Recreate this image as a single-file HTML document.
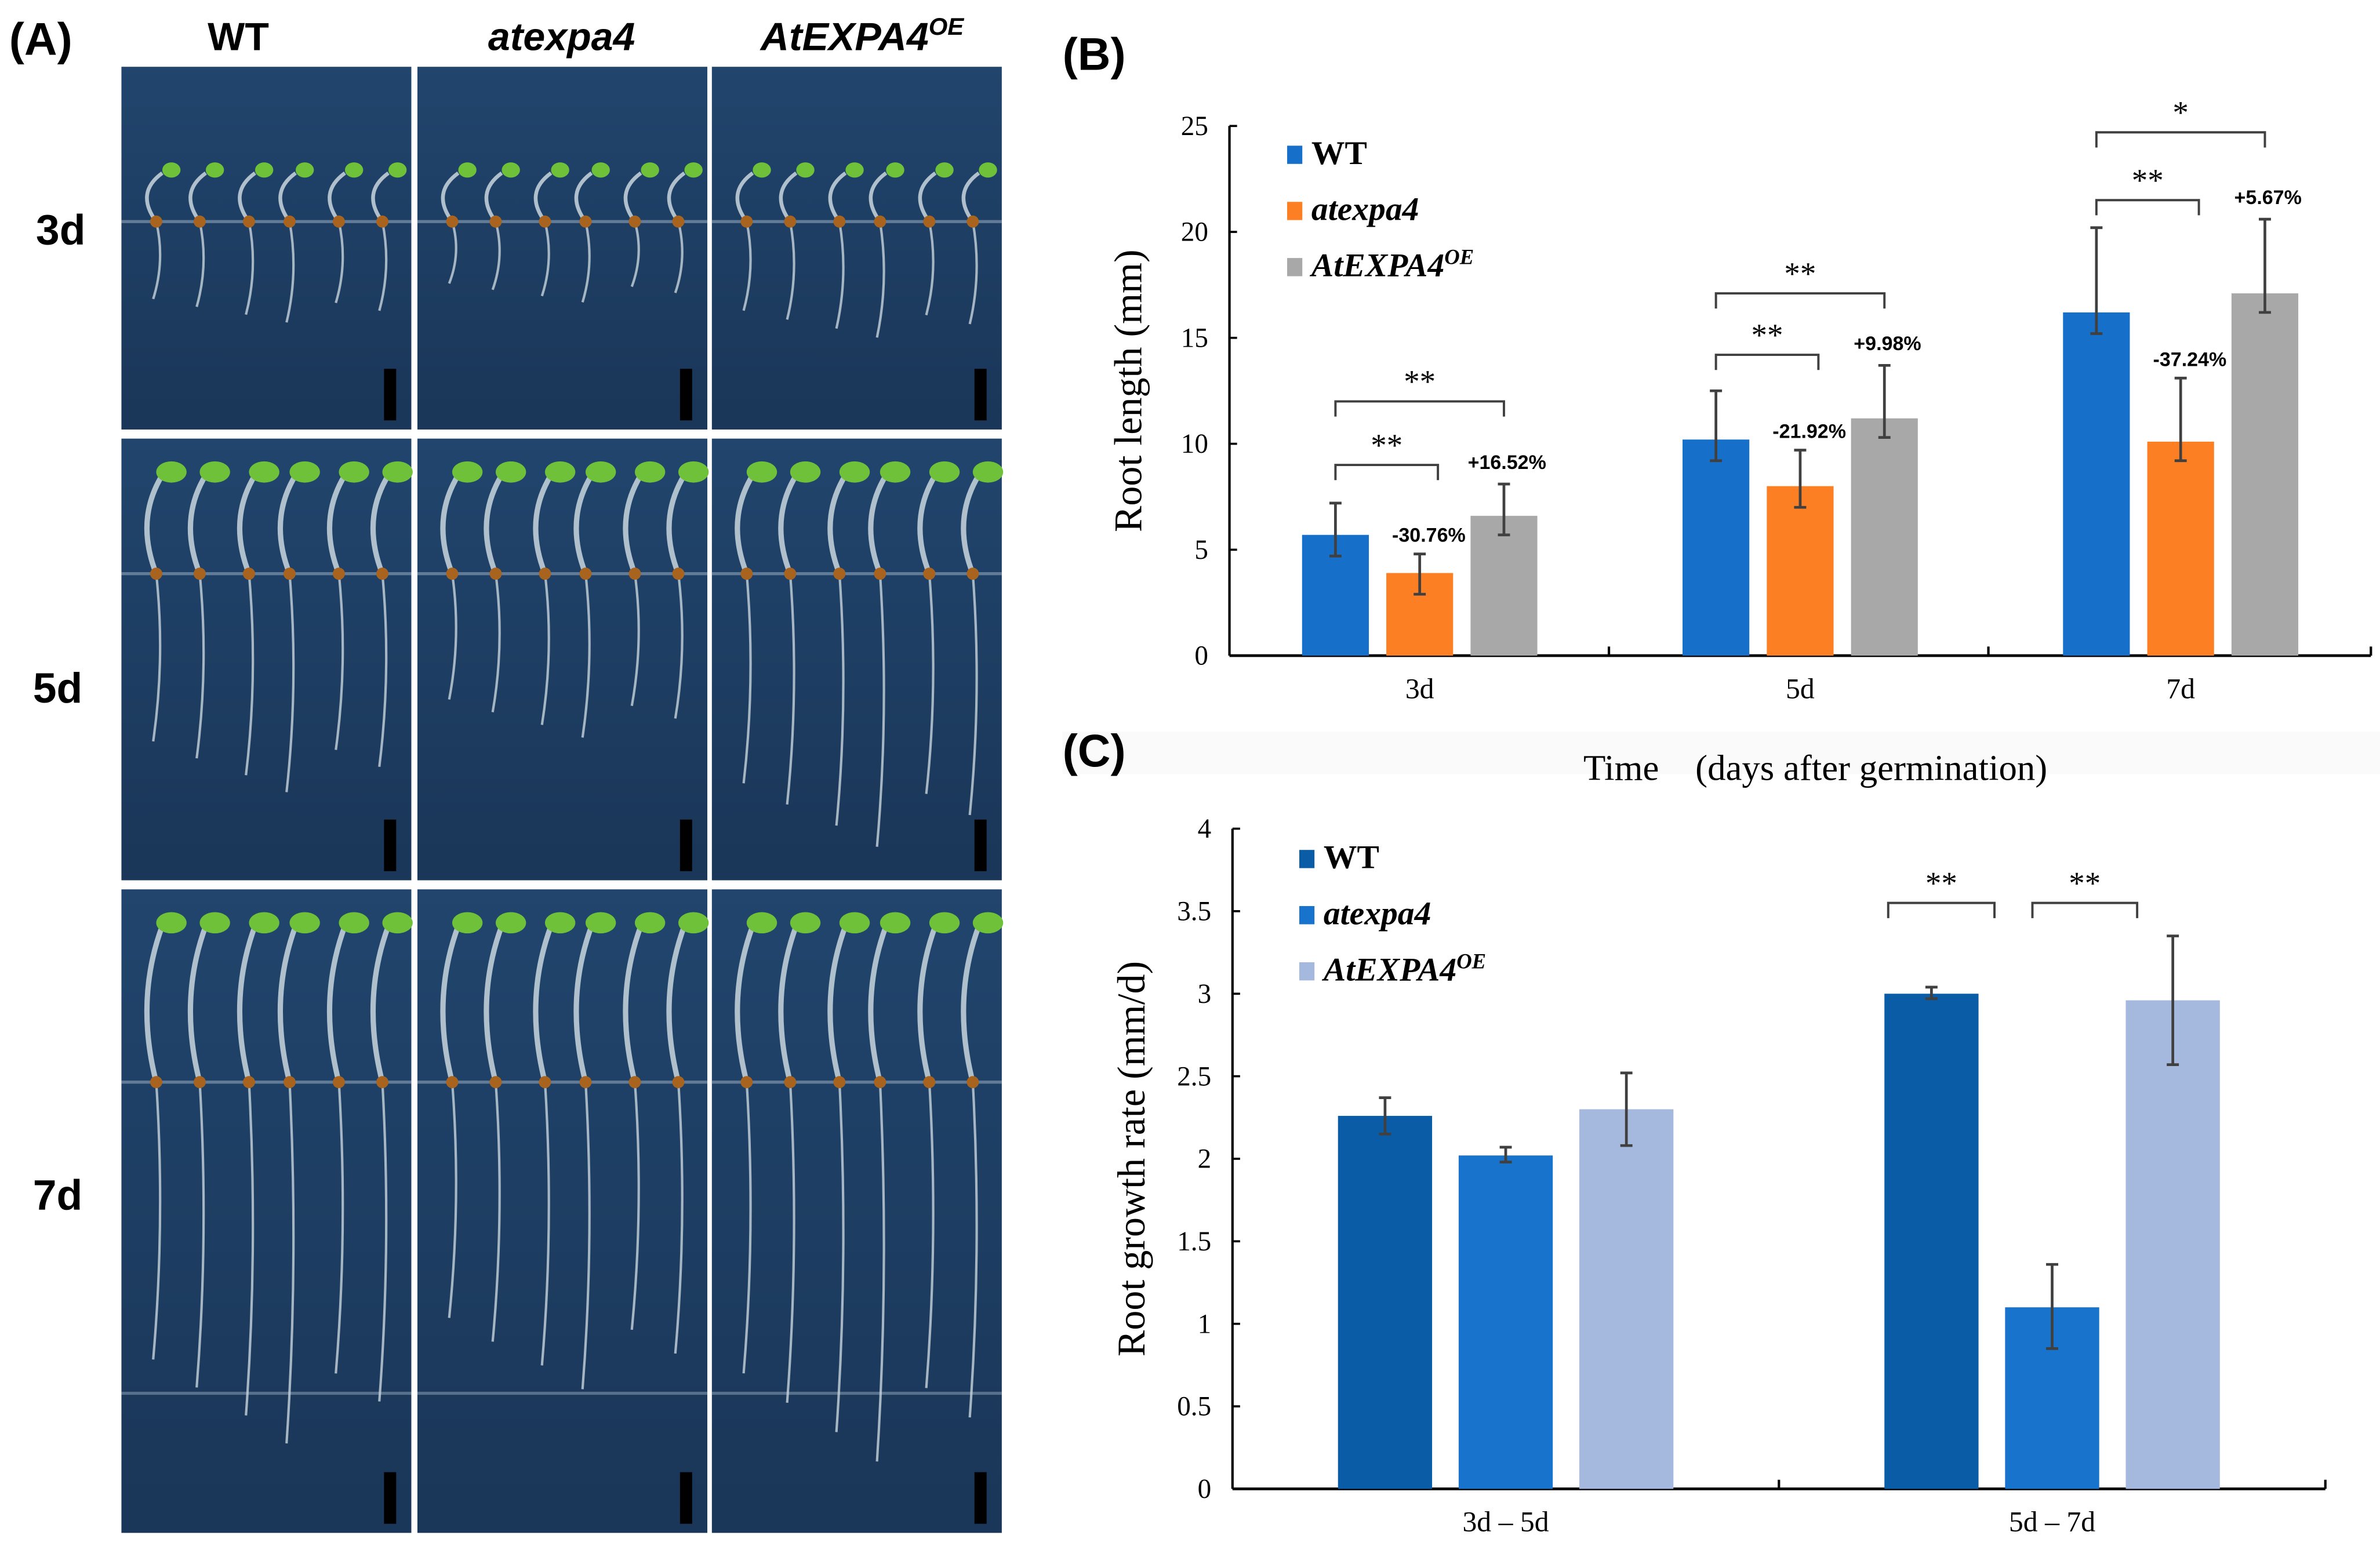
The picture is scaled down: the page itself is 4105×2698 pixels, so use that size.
<!DOCTYPE html>
<html><head><meta charset="utf-8"><style>
html,body{margin:0;padding:0;background:#fff;}
svg{display:block;}
.ser{font-family:"Liberation Serif",serif;}
.san{font-family:"Liberation Sans",sans-serif;}
</style></head><body>
<svg id="fig" width="4105" height="2698" viewBox="0 0 1568 1030.5" preserveAspectRatio="none" xmlns="http://www.w3.org/2000/svg">
<defs>
<linearGradient id="bg" x1="0" y1="0" x2="0" y2="1"><stop offset="0" stop-color="#21456d"/><stop offset="1" stop-color="#1a3658"/></linearGradient>
</defs>
<g id="panelA">
<text x="6" y="36" class="san" font-size="30" font-weight="bold">(A)</text>
<text x="157" y="33" class="san" font-size="26" font-weight="bold" text-anchor="middle">WT</text>
<text x="370" y="33" class="san" font-size="26" font-weight="bold" font-style="italic" text-anchor="middle">atexpa4</text>
<text x="568" y="33" class="san" font-size="26" font-weight="bold" font-style="italic" text-anchor="middle">AtEXPA4<tspan font-size="16" dy="-10">OE</tspan></text>
<text x="40" y="161" class="san" font-size="28" font-weight="bold" text-anchor="middle">3d</text>
<text x="38" y="463" class="san" font-size="28" font-weight="bold" text-anchor="middle">5d</text>
<text x="38" y="797" class="san" font-size="28" font-weight="bold" text-anchor="middle">7d</text>
</g>
<g id="panelB">
<text x="700" y="46" class="san" font-size="30" font-weight="bold">(B)</text>
</g>
<g id="panelC">
<rect x="700" y="482" width="868" height="28" fill="#fafafa"/>
<text x="700" y="505" class="san" font-size="30" font-weight="bold">(C)</text>
<text x="1196" y="514" class="ser" font-size="24" text-anchor="middle">Time　(days after germination)</text>
</g>
</svg>
<script>
// ---- Panel B data ----
const bCategories = ["3d","5d","7d"];
const bSeries = ["WT","atexpa4","AtEXPA4OE"];
const bWT = [5.7, 10.2, 16.2];
const bMut = [3.9, 8.0, 10.1];
const bOE = [6.6, 11.2, 17.1];
const bWTlo = [4.7, 9.2, 15.2], bWThi = [7.2, 12.5, 20.2];
const bMutlo = [2.9, 7.0, 9.2], bMuthi = [4.8, 9.7, 13.1];
const bOElo = [5.7, 10.3, 16.2], bOEhi = [8.1, 13.7, 20.6];
const bPct = ["-30.76%","-21.92%","-37.24%"];
const bPctOE = ["+16.52%","+9.98%","+5.67%"];
const bSigMut = ["**","**","**"];
const bSigOE = ["**","**","*"];
const bBrMut = [9.0, 14.2, 21.5];
const bBrOE = [12.0, 17.1, 24.7];
const bTicks = [0,5,10,15,20,25];
// ---- Panel C data ----
const cCategories = ["3d – 5d","5d – 7d"];
const cWT = [2.26, 3.00];
const cMut = [2.02, 1.10];
const cOE = [2.30, 2.96];
const cWTlo = [2.15, 2.97], cWThi = [2.37, 3.04];
const cMutlo = [1.98, 0.85], cMuthi = [2.07, 1.36];
const cOElo = [2.08, 2.57], cOEhi = [2.52, 3.35];
const cBr = [3.55, 3.55];
const cTicks = [0,0.5,1,1.5,2,2.5,3,3.5,4];
const cTickLabels = ["0","0.5","1","1.5","2","2.5","3","3.5","4"];

const NS = "http://www.w3.org/2000/svg";
function mk(parent, tag, attrs, text){
  const e = document.createElementNS(NS, tag);
  for (const k in attrs) e.setAttribute(k, attrs[k]);
  if (text !== undefined) e.textContent = text;
  parent.appendChild(e);
  return e;
}

// ---- Panel A photos ----
const A = document.getElementById("panelA");
const cols = [[80,271],[275,466],[469,660]];
const rows = [[44,283,146,60],[289,580,378,130],[586,1010,713,215]];
const rootMult = [[1,0.8,1.15],[1,0.75,1.25],[1,0.85,1.05]];
const seedX = [0.12,0.27,0.44,0.58,0.75,0.9];
rows.forEach((r,ri)=>{
  cols.forEach((c,ci)=>{
    const g = mk(A,"g",{});
    
    
    const w=c[1]-c[0], h=r[1]-r[0];
    mk(g,"rect",{x:c[0],y:r[0],width:w,height:h,fill:"url(#bg)"});
    mk(g,"line",{x1:c[0],x2:c[1],y1:r[2],y2:r[2],stroke:"#7f96ad","stroke-width":2,opacity:0.7});
    if(ri===2) mk(g,"line",{x1:c[0],x2:c[1],y1:918,y2:918,stroke:"#7f96ad","stroke-width":2,opacity:0.6});
    seedX.forEach((f,k)=>{
      const x=c[0]+w*f;
      const rl=r[3]*rootMult[ri][ci]*(0.85+0.3*((k*37)%7)/7);
      const top = ri===0? r[2]-38 : r[0]+18;
      mk(g,"path",{d:`M${x} ${r[2]} Q${x-14} ${(top+r[2])/2} ${x+4} ${top+6}`,fill:"none",stroke:"#c9d6de","stroke-width":ri===0?2.5:3.5,opacity:0.85});
      mk(g,"ellipse",{cx:x+10,cy:top+4,rx:ri===0?6:10,ry:ri===0?5:7,fill:"#6fc13a"});
      mk(g,"path",{d:`M${x} ${r[2]} Q${x+6} ${r[2]+rl/2} ${x-2} ${r[2]+rl}`,fill:"none",stroke:"#c8d4dc","stroke-width":1.6,opacity:0.8});
      mk(g,"circle",{cx:x,cy:r[2],r:4,fill:"#a8641e"});
    });
    mk(g,"rect",{x:c[1]-18,y:r[1]-40,width:8,height:34,fill:"#000"});
  });
});

// ---- generic bar chart ----
function drawChart(G, o){
  const y = v => o.y0 - (v - 0) * (o.y0 - o.yTop) / o.max;
  mk(G,"line",{x1:o.ax,x2:o.ax,y1:o.yTop,y2:o.y0,stroke:"#000","stroke-width":1.6});
  mk(G,"line",{x1:o.ax,x2:o.xEnd,y1:o.y0,y2:o.y0,stroke:"#000","stroke-width":1.8});
  o.ticks.forEach((t,i)=>{
    mk(G,"line",{x1:o.ax,x2:o.ax+5,y1:y(t),y2:y(t),stroke:"#000","stroke-width":1.4});
    const tl = mk(G,"text",{x:o.ax-14,y:y(t)+6,"text-anchor":"end","font-size":18,class:"ser"}, o.tickLabels[i]);
    
    
  });
  o.sep.forEach(sx=>mk(G,"line",{x1:sx,x2:sx,y1:o.y0-6,y2:o.y0,stroke:"#000","stroke-width":1.6}));
  mk(G,"line",{x1:o.xEnd,x2:o.xEnd,y1:o.y0-6,y2:o.y0,stroke:"#000","stroke-width":1.6});
  const nG = o.cats.length;
  const gw = (o.xEnd - o.ax)/nG;
  o.cats.forEach((cat,i)=>{
    const cx = o.ax + gw*(i+0.5);
    const xl = mk(G,"text",{x:cx,y:o.y0+28,"text-anchor":"middle","font-size":19,class:"ser"},cat);
    
    
    o.series.forEach((s,j)=>{
      const bx = cx + (j-1)*o.step - o.bw/2;
      const b = mk(G,"rect",{x:bx,y:y(s.v[i]),width:o.bw,height:o.y0-y(s.v[i]),fill:s.color});
      
      
      const ex = bx + o.bw/2;
      const e = mk(G,"path",{d:`M${ex} ${y(s.lo[i])}V${y(s.hi[i])}M${ex-4} ${y(s.lo[i])}H${ex+4}M${ex-4} ${y(s.hi[i])}H${ex+4}`,stroke:"#404040","stroke-width":1.8,fill:"none"});
      
      
    });
    if (o.annot) o.annot(G, i, cx, y);
  });
  o.legend.forEach((l,k)=>{
    const ly = o.legY + k*o.legStep;
    const sq = mk(G,"rect",{x:o.legX,y:ly-12,width:10,height:12,fill:l.color});
    
    
    const t = mk(G,"text",{x:o.legX+16,y:ly,"font-size":22,"font-weight":"bold","font-style":l.it?"italic":"normal",class:"ser"},l.text);
    
    
    if (l.sup){ mk(t,"tspan",{dy:-8,"font-size":14},l.sup); }
  });
  const at = mk(G,"text",{transform:`translate(${o.ax-58},${(o.yTop+o.y0)/2}) rotate(-90)`,"text-anchor":"middle","font-size":26,class:"ser"},o.yTitle);
  
  
}

function bracket(G,x1,x2,yb,label){
  const p = mk(G,"path",{d:`M${x1} ${yb+10}V${yb}H${x2}V${yb+10}`,fill:"none",stroke:"#404040","stroke-width":1.5});
  
  
  const t = mk(G,"text",{x:(x1+x2)/2,y:yb-6,"text-anchor":"middle","font-size":21,class:"ser"},label);
  
  
}

const B = document.getElementById("panelB");
drawChart(B,{
  ax:810, xEnd:1562, y0:432, yTop:83, max:25, ticks:bTicks, tickLabels:bTicks.map(String),
  sep:[1060,1310], cats:bCategories, bw:44, step:55.5,
  series:[{name:"wt",v:bWT,lo:bWTlo,hi:bWThi,color:"#1670c9"},
          {name:"atexpa4",v:bMut,lo:bMutlo,hi:bMuthi,color:"#fd7f23"},
          {name:"atexpa4oe",v:bOE,lo:bOElo,hi:bOEhi,color:"#a8a8a8"}],
  legend:[{text:"WT",color:"#1670c9"},{text:"atexpa4",color:"#fd7f23",it:1},{text:"AtEXPA4",sup:"OE",color:"#a8a8a8",it:1}],
  legX:848, legY:108, legStep:37, yTitle:"Root length (mm)",
  annot:(G,i,cx,y)=>{
    const xw = cx-55.5, xm = cx, xo = cx+55.5;
    bracket(G,xw,xm+12,y(bBrMut[i]),bSigMut[i]);
    bracket(G,xw,xo,y(bBrOE[i]),bSigOE[i]);
    const p1 = mk(G,"text",{x:xm+6,y:y(bMuthi[i])-8,"text-anchor":"middle","font-size":13,"font-weight":"bold",class:"san"},bPct[i]);
    
    
    const p2 = mk(G,"text",{x:xo+2,y:y(bOEhi[i])-10,"text-anchor":"middle","font-size":13,"font-weight":"bold",class:"san"},bPctOE[i]);
    
    
  }
});

const C = document.getElementById("panelC");
drawChart(C,{
  ax:812, xEnd:1532, y0:981, yTop:546, max:4, ticks:cTicks, tickLabels:cTickLabels,
  sep:[1172], cats:cCategories, bw:62, step:79.5,
  series:[{name:"wt",v:cWT,lo:cWTlo,hi:cWThi,color:"#0b5ca6"},
          {name:"atexpa4",v:cMut,lo:cMutlo,hi:cMuthi,color:"#1773cb"},
          {name:"atexpa4oe",v:cOE,lo:cOElo,hi:cOEhi,color:"#a5b8de"}],
  legend:[{text:"WT",color:"#0b5ca6"},{text:"atexpa4",color:"#1773cb",it:1},{text:"AtEXPA4",sup:"OE",color:"#a5b8de",it:1}],
  legX:856, legY:572, legStep:37, yTitle:"Root growth rate (mm/d)",
  annot:(G,i,cx,y)=>{
    if(i===1){
      bracket(G,cx-108,cx-38,y(cBr[0]),"**");
      bracket(G,cx-13,cx+56,y(cBr[1]),"**");
    }
  }
});
</script>
</body></html>
